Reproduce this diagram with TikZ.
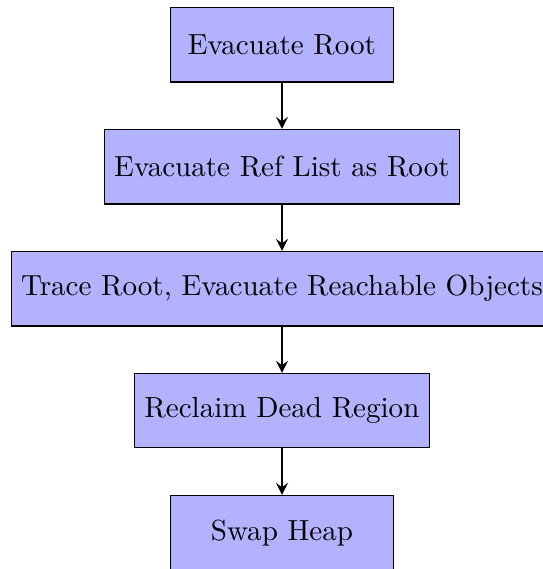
\documentclass[tikz,border=0pt]{standalone}
\usepackage{tikz}
\usetikzlibrary{arrows,positioning}

\tikzset{
  stepbox/.style={draw, fill=blue!30, minimum width=2.7cm, minimum height=0.9cm, align=center},
  flow/.style={->, >=stealth, thick}
}

\begin{document}
\begin{tikzpicture}[node distance=0.56cm]
    % GC steps
    \node[stepbox] (root) {Evacuate Root};
    \node[stepbox, below=of root] (reflist) {Evacuate Ref List as Root};
    \node[stepbox, below=of reflist] (trace) {Trace Root, Evacuate Reachable Objects};
    \node[stepbox, below=of trace] (reclaim) {Reclaim Dead Region};
    \node[stepbox, below=of reclaim] (swap) {Swap Heap};

    % Arrows
    \draw[flow] (root) -- (reflist);
    \draw[flow] (reflist) -- (trace);
    \draw[flow] (trace) -- (reclaim);
    \draw[flow] (reclaim) -- (swap);

    % visible area
    \coordinate (tl) at (trace.west |- root.north);
    \coordinate (br) at (trace.east |- swap.south);
    \pgfresetboundingbox
    \useasboundingbox ([shift={(-3.75pt,2.4pt)}]tl) rectangle ([shift={(-3.6pt,0.5pt)}]br);
\end{tikzpicture}
\end{document}
